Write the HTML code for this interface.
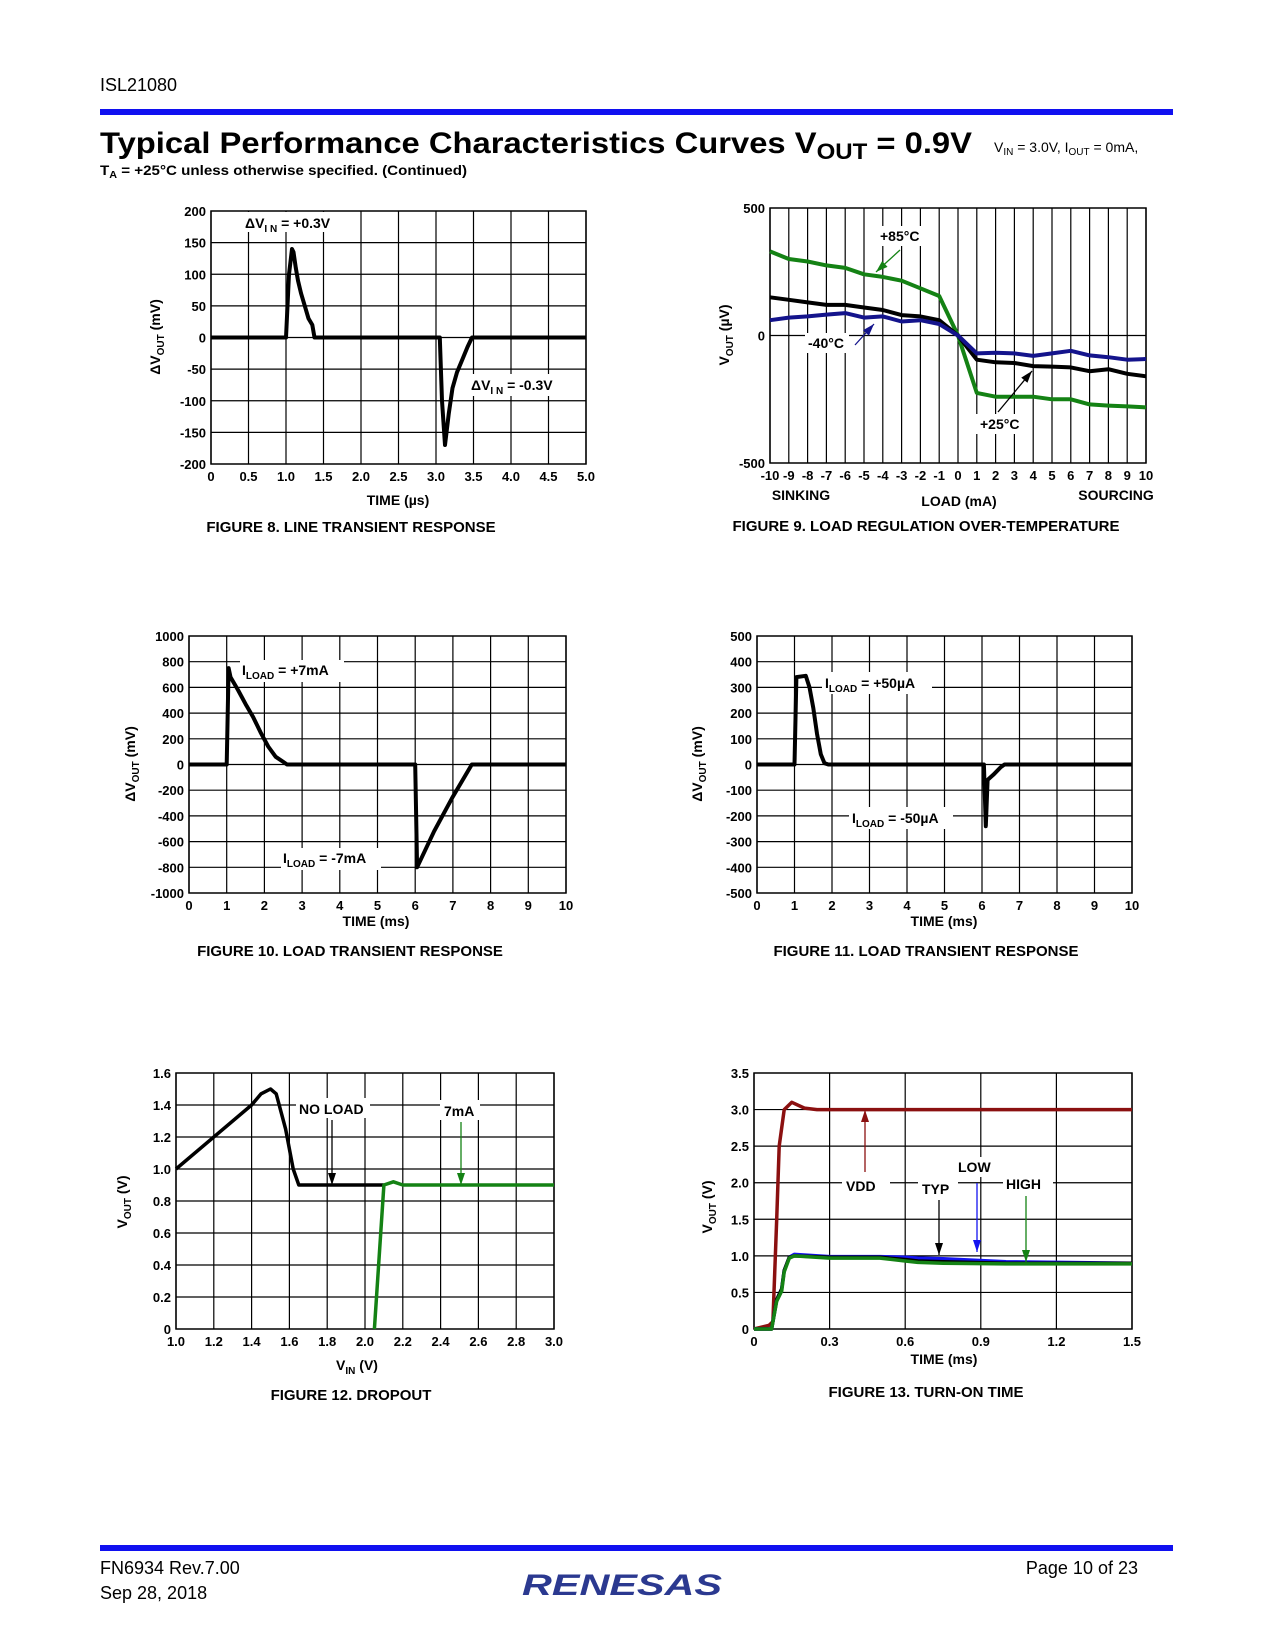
<!DOCTYPE html>
<html><head><meta charset="utf-8"><style>
body{margin:0;background:#fff}
svg{display:block}
text{font-family:"Liberation Sans",sans-serif}
.b{font-weight:bold}
</style></head><body>
<svg id="pg" width="1275" height="1650" viewBox="0 0 1275 1650" xmlns="http://www.w3.org/2000/svg">
<text x="100" y="91" font-size="18">ISL21080</text>
<rect x="100" y="109" width="1073" height="6" fill="#1010f0"/>
<text x="100" y="153" font-size="30" font-weight="900" textLength="872" lengthAdjust="spacingAndGlyphs">Typical Performance Characteristics Curves V<tspan font-size="22" dy="6">OUT</tspan><tspan dy="-6"> = 0.9V</tspan></text>
<text x="994" y="152" font-size="14">V<tspan font-size="10" dy="3">IN</tspan><tspan dy="-3"> = 3.0V, I</tspan><tspan font-size="10" dy="3">OUT</tspan><tspan dy="-3"> = 0mA,</tspan></text>
<text x="100" y="175" font-size="14" class="b" textLength="367" lengthAdjust="spacingAndGlyphs">T<tspan font-size="10" dy="3">A</tspan><tspan dy="-3"> = +25°C unless otherwise specified. (Continued)</tspan></text>
<g id="charts"></g>
<rect x="100" y="1545" width="1073" height="6" fill="#1010f0"/>
<text x="100" y="1574" font-size="18">FN6934  Rev.7.00</text>
<text x="100" y="1599" font-size="18">Sep 28, 2018</text>
<text x="1138" y="1574" font-size="18" text-anchor="end">Page 10 of 23</text>
<text x="622" y="1595" font-size="30" font-weight="900" font-style="italic" fill="#2b3990" text-anchor="middle" textLength="200" lengthAdjust="spacingAndGlyphs">RENESAS</text>
</svg>
<script>
// ---- data ----
const f8Time=[0,1.0,1.04,1.08,1.1,1.13,1.16,1.2,1.25,1.3,1.35,1.38,3.05,3.08,3.12,3.17,3.22,3.28,3.35,3.42,3.48,5.0];
const f8Vout=[0,0,100,140,135,110,90,70,50,30,20,0,0,-100,-170,-120,-80,-55,-35,-15,0,0];
const f9Load=[-10,-9,-8,-7,-6,-5,-4,-3,-2,-1,0,1,2,3,4,5,6,7,8,9,10];
const f9T85=[330,300,290,275,265,240,230,215,185,155,0,-225,-240,-240,-240,-250,-250,-270,-275,-278,-282];
const f9T25=[150,140,130,120,120,110,100,80,75,60,0,-95,-105,-108,-120,-122,-125,-140,-132,-150,-160];
const f9Tm40=[60,70,75,82,88,70,75,55,60,45,0,-70,-68,-70,-80,-70,-60,-78,-85,-95,-92];
const f10Time=[0,1.0,1.05,1.1,1.3,1.5,1.7,1.9,2.1,2.3,2.5,2.6,6.0,6.05,6.5,7.0,7.5,10];
const f10Vout=[0,0,750,680,580,470,370,250,140,60,20,0,0,-800,-520,-250,0,0];
const f11Time=[0,1.0,1.05,1.3,1.4,1.5,1.6,1.7,1.8,1.9,6.05,6.1,6.15,6.3,6.5,6.6,10];
const f11Vout=[0,0,340,345,300,220,120,40,5,0,0,-240,-60,-40,-10,0,0];
const f12VinNoLoad=[1.0,1.4,1.45,1.5,1.53,1.58,1.62,1.65,1.7,2.1];
const f12VoutNoLoad=[1.0,1.4,1.47,1.5,1.47,1.25,1.0,0.9,0.9,0.9];
const f12Vin7mA=[2.05,2.1,2.15,2.2,3.0];
const f12Vout7mA=[0,0.9,0.92,0.9,0.9];
const f13Time=[0,0.06,0.075,0.09,0.1,0.12,0.15,0.2,0.25,0.4,0.6,0.8,1.0,1.2,1.5];
const f13Vdd=[0,0.05,0.1,1.5,2.5,3.0,3.1,3.02,3.0,3.0,3.0,3.0,3.0,3.0,3.0];
const f13TimeO=[0,0.07,0.09,0.11,0.12,0.14,0.16,0.3,0.5,0.6,0.65,0.75,1.0,1.5];
const f13Typ=[0,0,0.4,0.55,0.8,0.98,1.0,0.98,0.98,0.95,0.93,0.92,0.9,0.9];
const f13Low=[0,0,0.4,0.55,0.8,0.98,1.02,0.99,0.99,0.98,0.97,0.96,0.92,0.9];
const f13High=[0,0,0.38,0.52,0.78,0.97,1.0,0.97,0.97,0.93,0.91,0.9,0.89,0.89];
const f8XTicks=["0","0.5","1.0","1.5","2.0","2.5","3.0","3.5","4.0","4.5","5.0"];
const f8YTicks=["200","150","100","50","0","-50","-100","-150","-200"];
const f9XTicks=["-10","-9","-8","-7","-6","-5","-4","-3","-2","-1","0","1","2","3","4","5","6","7","8","9","10"];
const f10YTicks=["1000","800","600","400","200","0","-200","-400","-600","-800","-1000"];
const f11YTicks=["500","400","300","200","100","0","-100","-200","-300","-400","-500"];
const f10XTicks=["0","1","2","3","4","5","6","7","8","9","10"];
const f12XTicks=["1.0","1.2","1.4","1.6","1.8","2.0","2.2","2.4","2.6","2.8","3.0"];
const f12YTicks=["1.6","1.4","1.2","1.0","0.8","0.6","0.4","0.2","0"];
const f13XTicks=["0","0.3","0.6","0.9","1.2","1.5"];
const f13YTicks=["3.5","3.0","2.5","2.0","1.5","1.0","0.5","0"];

const NS="http://www.w3.org/2000/svg";
const root=document.getElementById('charts');
function mk(tag,at,parent,txt){const e=document.createElementNS(NS,tag);for(const k in at)e.setAttribute(k,at[k]);if(txt!==undefined)e.textContent=txt;(parent||root).appendChild(e);return e;}

function chart(c){
  const g=mk('g',{});
  
  
  const X=v=>c.x0+(v-c.xmin)/(c.xmax-c.xmin)*(c.x1-c.x0);
  const Y=v=>c.y1-(v-c.ymin)/(c.ymax-c.ymin)*(c.y1-c.y0);
  for(let i=0;i<=c.nx;i++){const x=c.x0+i*(c.x1-c.x0)/c.nx;const l=mk('line',{x1:x,y1:c.y0,x2:x,y2:c.y1,stroke:'#000','stroke-width':1.2},g);}
  (c.hlines||[]).forEach(i=>{const y=c.y0+i*(c.y1-c.y0)/c.ny;const l=mk('line',{x1:c.x0,y1:y,x2:c.x1,y2:y,stroke:'#000','stroke-width':1.2},g);});
  const r=mk('rect',{x:c.x0,y:c.y0,width:c.x1-c.x0,height:c.y1-c.y0,fill:'none',stroke:'#000','stroke-width':1.5},g);
  
  c.yt.forEach((t,i)=>{const y=c.y0+i*(c.y1-c.y0)/(c.yt.length-1);const e=mk('text',{x:c.x0-5,y:y+5,'font-size':13,'font-weight':'bold','text-anchor':'end'},g,t);});
  c.xt.forEach((t,i)=>{const x=c.x0+i*(c.x1-c.x0)/(c.xt.length-1);const e=mk('text',{x:x+(c.xoff||0),y:c.y1+17,'font-size':13,'font-weight':'bold','text-anchor':'middle'},g,t);});
  c.series.forEach(s=>{const d=s.x.map((v,i)=>(i?'L':'M')+X(v).toFixed(1)+' '+Y(s.y[i]).toFixed(1)).join(' ');
    const p=mk('path',{d:d,fill:'none',stroke:s.color,'stroke-width':s.w||4,'stroke-linejoin':'round'},g);});
  return g;
}
function txt(x,y,s,name,o){const e=mk('text',Object.assign({x:x,y:y,'font-size':14,'font-weight':'bold'},o||{}));e.innerHTML=s;return e;}
function arrow(x1,y1,x2,y2,col,name){const g=mk('g',{});
  mk('line',{x1:x1,y1:y1,x2:x2,y2:y2,stroke:col,'stroke-width':1.3},g);
  const a=Math.atan2(y2-y1,x2-x1),L=12,W=4;
  const p=[[x2,y2],[x2-L*Math.cos(a)+W*Math.sin(a),y2-L*Math.sin(a)-W*Math.cos(a)],[x2-L*Math.cos(a)-W*Math.sin(a),y2-L*Math.sin(a)+W*Math.cos(a)]];
  mk('polygon',{points:p.map(q=>q.join(',')).join(' '),fill:col},g);}
function ytitle(x,y,s,name){const e=mk('text',{x:0,y:0,'font-size':14,'font-weight':'bold','text-anchor':'middle',transform:`translate(${x},${y}) rotate(-90)`});e.innerHTML=s;}
const sub=(s)=>`<tspan font-size="10" dy="4">${s}</tspan><tspan dy="-4">`;

// Figure 8
chart({name:'figure-8-chart',x0:211,x1:586,y0:211,y1:464,xmin:0,xmax:5,ymin:-200,ymax:200,nx:10,ny:8,hlines:[1,2,3,4,5,6,7],xt:f8XTicks,yt:f8YTicks,
 series:[{name:'line-transient-series',x:f8Time,y:f8Vout,color:'#000'}]});
mk('rect',{x:240,y:212,width:98,height:20,fill:'#fff'});
txt(245,228,'ΔV'+sub('I N')+' = +0.3V</tspan>','annotation-vin-plus');
mk('rect',{x:468,y:374,width:92,height:22,fill:'#fff'});
txt(471,390,'ΔV'+sub('I N')+' = -0.3V</tspan>','annotation-vin-minus');
ytitle(160,337,'ΔV'+sub('OUT')+' (mV)</tspan>','y-axis-title-fig8');
txt(398,505,'TIME (µs)','x-axis-title-fig8',{'text-anchor':'middle'});
txt(351,532,'FIGURE 8.  LINE TRANSIENT RESPONSE','caption-fig8',{'text-anchor':'middle','font-size':15});

// Figure 9
chart({name:'figure-9-chart',x0:770,x1:1146,y0:208,y1:463,xmin:-10,xmax:10,ymin:-500,ymax:500,nx:20,ny:2,hlines:[1],xt:f9XTicks,yt:["500","0","-500"],
 series:[{name:'series-85c',x:f9Load,y:f9T85,color:'#148214'},{name:'series-25c',x:f9Load,y:f9T25,color:'#000'},{name:'series-minus40c',x:f9Load,y:f9Tm40,color:'#14148c'}]});
mk('rect',{x:876,y:226,width:50,height:20,fill:'#fff'});
txt(880,241,'+85°C','label-85c');
arrow(900,250,876,272,'#148214','arrow-85c');
mk('rect',{x:805,y:333,width:44,height:20,fill:'#fff'});
txt(808,348,'-40°C','label-minus40c');
arrow(855,345,874,324,'#14148c','arrow-minus40c');
mk('rect',{x:976,y:414,width:50,height:20,fill:'#fff'});
txt(980,429,'+25°C','label-25c');
arrow(998,412,1032,371,'#000','arrow-25c');
txt(801,500,'SINKING','sinking-label',{'text-anchor':'middle'});
txt(959,506,'LOAD (mA)','x-axis-title-fig9',{'text-anchor':'middle'});
txt(1116,500,'SOURCING','sourcing-label',{'text-anchor':'middle'});
ytitle(729,335,'V'+sub('OUT')+' (µV)</tspan>','y-axis-title-fig9');
txt(926,531,'FIGURE 9.  LOAD REGULATION OVER-TEMPERATURE','caption-fig9',{'text-anchor':'middle','font-size':15});

// Figure 10
chart({name:'figure-10-chart',x0:189,x1:566,y0:636,y1:893,xmin:0,xmax:10,ymin:-1000,ymax:1000,nx:10,ny:10,hlines:[1,2,3,4,5,6,7,8,9],xt:f10XTicks,yt:f10YTicks,
 series:[{name:'load-transient-series',x:f10Time,y:f10Vout,color:'#000'}]});
mk('rect',{x:240,y:660,width:104,height:22,fill:'#fff'});
txt(242,675,'I'+sub('LOAD')+' = +7mA</tspan>','annotation-iload-plus');
mk('rect',{x:281,y:848,width:100,height:22,fill:'#fff'});
txt(283,863,'I'+sub('LOAD')+' = -7mA</tspan>','annotation-iload-minus');
ytitle(135,764,'ΔV'+sub('OUT')+' (mV)</tspan>','y-axis-title-fig10');
txt(376,926,'TIME (ms)','x-axis-title-fig10',{'text-anchor':'middle'});
txt(350,956,'FIGURE 10.  LOAD TRANSIENT RESPONSE','caption-fig10',{'text-anchor':'middle','font-size':15});

// Figure 11
chart({name:'figure-11-chart',x0:757,x1:1132,y0:636,y1:893,xmin:0,xmax:10,ymin:-500,ymax:500,nx:10,ny:10,hlines:[1,2,3,4,5,6,7,8,9],xt:f10XTicks,yt:f11YTicks,
 series:[{name:'load-transient-series-ua',x:f11Time,y:f11Vout,color:'#000'}]});
mk('rect',{x:822,y:672,width:110,height:22,fill:'#fff'});
txt(825,688,'I'+sub('LOAD')+' = +50µA</tspan>','annotation-iload-plus-ua');
mk('rect',{x:849,y:807,width:104,height:22,fill:'#fff'});
txt(852,823,'I'+sub('LOAD')+' = -50µA</tspan>','annotation-iload-minus-ua');
ytitle(702,764,'ΔV'+sub('OUT')+' (mV)</tspan>','y-axis-title-fig11');
txt(944,926,'TIME (ms)','x-axis-title-fig11',{'text-anchor':'middle'});
txt(926,956,'FIGURE 11.  LOAD TRANSIENT RESPONSE','caption-fig11',{'text-anchor':'middle','font-size':15});

// Figure 12
chart({name:'figure-12-chart',x0:176,x1:554,y0:1073,y1:1329,xmin:1.0,xmax:3.0,ymin:0,ymax:1.6,nx:10,ny:8,hlines:[1,2,3,4,5,6,7],xt:f12XTicks,yt:f12YTicks,
 series:[{name:'series-no-load',x:f12VinNoLoad,y:f12VoutNoLoad,color:'#000',w:3.5},{name:'series-7ma',x:f12Vin7mA,y:f12Vout7mA,color:'#148214',w:3.5}]});
mk('rect',{x:296,y:1098,width:74,height:20,fill:'#fff'});
txt(299,1114,'NO LOAD','label-no-load');
arrow(332,1120,332,1185,'#000','arrow-no-load');
mk('rect',{x:440,y:1100,width:40,height:20,fill:'#fff'});
txt(444,1116,'7mA','label-7ma');
arrow(461,1122,461,1185,'#148214','arrow-7ma');
ytitle(127,1202,'V'+sub('OUT')+' (V)</tspan>','y-axis-title-fig12');
txt(357,1370,'V'+sub('IN')+' (V)</tspan>','x-axis-title-fig12',{'text-anchor':'middle'});
txt(351,1400,'FIGURE 12.  DROPOUT','caption-fig12',{'text-anchor':'middle','font-size':15});

// Figure 13
chart({name:'figure-13-chart',x0:754,x1:1132,y0:1073,y1:1329,xmin:0,xmax:1.5,ymin:0,ymax:3.5,nx:5,ny:7,hlines:[1,2,3,4,5,6],xt:f13XTicks,yt:f13YTicks,
 series:[{name:'series-vdd',x:f13Time,y:f13Vdd,color:'#8b1010',w:3.5},{name:'series-low',x:f13TimeO,y:f13Low,color:'#1414f0',w:3.5},{name:'series-typ',x:f13TimeO,y:f13Typ,color:'#000',w:3.5},{name:'series-high',x:f13TimeO,y:f13High,color:'#148214',w:3.5}]});
mk('rect',{x:842,y:1175,width:48,height:22,fill:'#fff'});
txt(846,1191,'VDD','label-vdd');
arrow(865,1172,865,1110,'#8b1010','arrow-vdd');
mk('rect',{x:918,y:1180,width:40,height:20,fill:'#fff'});
txt(922,1194,'TYP','label-typ');
arrow(939,1200,939,1255,'#000','arrow-typ');
mk('rect',{x:954,y:1157,width:46,height:20,fill:'#fff'});
txt(958,1172,'LOW','label-low');
arrow(977,1183,977,1252,'#1414f0','arrow-low');
mk('rect',{x:1003,y:1174,width:50,height:22,fill:'#fff'});
txt(1006,1189,'HIGH','label-high');
arrow(1026,1196,1026,1262,'#148214','arrow-high');
ytitle(712,1207,'V'+sub('OUT')+' (V)</tspan>','y-axis-title-fig13');
txt(944,1364,'TIME (ms)','x-axis-title-fig13',{'text-anchor':'middle'});
txt(926,1397,'FIGURE 13.  TURN-ON TIME','caption-fig13',{'text-anchor':'middle','font-size':15});
</script>
</body></html>
